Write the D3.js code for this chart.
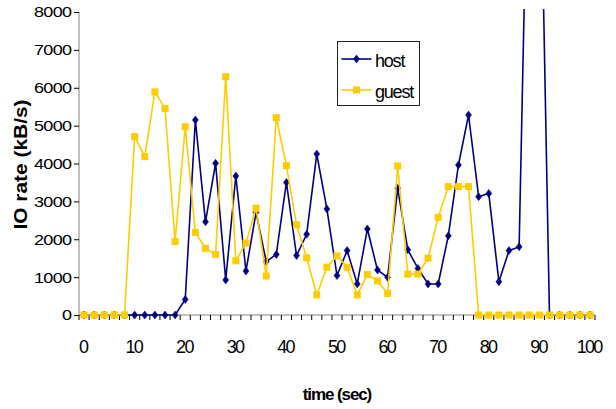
<!DOCTYPE html>
<html>
<head>
<meta charset="utf-8">
<script src="https://cdn.jsdelivr.net/npm/d3@7"></script>
<style>
  html, body { margin: 0; padding: 0; background: #fff; }
  svg text { font-family: "Liberation Sans", Arial, sans-serif; fill: #000; }
</style>
</head>
<body>
<svg id="chart" width="616" height="409"></svg>
<script>
// Sample times (seconds), one reading every 2 s
const times = d3.range(0, 101, 2);

// IO rate in kB/s measured on the host
const hostValues = [
  0, 0, 0, 0, 0, 0, 0, 0, 0, 0,
  410, 5150, 2460, 4005, 925, 3670, 1160, 2710, 1410, 1600,
  3500, 1570, 2130, 4250, 2800, 1040, 1700, 820, 2270, 1190,
  995, 3345, 1720, 1230, 820, 820, 2090, 3960, 5280, 3125,
  3210, 880, 1700, 1800, 14500, 14000,
  0, 0, 0, 0, 0
];

// IO rate in kB/s measured inside the guest
const guestValues = [
  0, 0, 0, 0, 0,
  4710, 4180, 5890, 5450, 1940, 4970, 2180, 1760, 1600, 6290,
  1430, 1900, 2820, 1030, 5210, 3940, 2380, 1510, 530, 1260,
  1560, 1260, 530, 1070, 900, 570, 3935, 1080, 1080, 1500,
  2580, 3390, 3390, 3390,
  0, 0, 0, 0, 0, 0, 0, 0, 0, 0, 0, 0
];

const yTicks = [0, 1000, 2000, 3000, 4000, 5000, 6000, 7000, 8000];
const xLabels = [0, 10, 20, 30, 40, 50, 60, 70, 80, 90, 100];

const series = [
  { name: "host",  values: hostValues,  color: "#000080", marker: "diamond" },
  { name: "guest", values: guestValues, color: "#FFCC00", marker: "square" }
];

const svg = d3.select("#chart");
const plotLeft = 79, plotRight = 595, plotTop = 12, plotBottom = 315;

const x = d3.scaleBand().domain(times).range([plotLeft, plotRight]).paddingInner(0).paddingOuter(0);
const cx = t => x(t) + x.bandwidth() / 2;
const y = d3.scaleLinear().domain([0, 8000]).range([plotBottom, plotTop]);

// plot area clip (lines running past the top are cut off)
svg.append("defs").append("clipPath").attr("id", "plotClip")
  .append("rect").attr("x", plotLeft).attr("y", plotTop - 3)
  .attr("width", plotRight - plotLeft + 1).attr("height", plotBottom - plotTop + 8);

// y axis: grey spine, short outward ticks, wide tick labels
const yAxis = svg.append("g").attr("transform", `translate(${plotLeft},0)`)
  .call(d3.axisLeft(y).tickValues(yTicks).tickSize(5).tickFormat(""));
yAxis.select(".domain").attr("stroke", "#808080").attr("d", `M0,${plotTop}V${plotBottom}`);
yAxis.selectAll(".tick line").attr("stroke", "#000");
svg.append("g").selectAll("text").data(yTicks).join("text")
  .attr("transform", d => `translate(71.5,${y(d) + 5.4}) scale(1.2,1)`)
  .attr("text-anchor", "end").attr("font-size", 15).attr("letter-spacing", "-0.5px")
  .text(d => d);

// x axis: ticks at category boundaries, labels every 10 s
const xg = svg.append("g");
xg.append("line").attr("x1", plotLeft).attr("x2", plotRight).attr("y1", plotBottom).attr("y2", plotBottom)
  .attr("stroke", "#808080");
const boundaries = times.map(t => x(t)).concat([plotRight]);
xg.selectAll("line.tk").data(boundaries).join("line").attr("class", "tk")
  .attr("x1", d => d).attr("x2", d => d).attr("y1", plotBottom).attr("y2", plotBottom + 5)
  .attr("stroke", "#000");
xg.selectAll("text").data(xLabels).join("text")
  .attr("x", d => cx(d) - 0.8).attr("y", plotBottom + 37.5)
  .attr("text-anchor", "middle").attr("font-size", 18).attr("letter-spacing", "-1.7px")
  .text(d => d);

// axis titles
svg.append("text").attr("x", (plotLeft + plotRight) / 2).attr("y", 399.5)
  .attr("text-anchor", "middle").attr("font-size", 17).attr("font-weight", "bold")
  .attr("letter-spacing", "-1.1px").text("time (sec)");
svg.append("text").attr("transform", `translate(26.5,${(plotTop + plotBottom) / 2 + 1}) rotate(-90) scale(1.13,1)`)
  .attr("text-anchor", "middle").attr("font-size", 18.5).attr("font-weight", "bold")
  .text("IO rate (kB/s)");

// marker shapes
function drawMarker(sel, kind, color) {
  if (kind === "diamond") {
    sel.append("path").attr("d", "M0,-4L3,0L0,4L-3,0Z").attr("fill", color).attr("stroke", color).attr("stroke-width", 0.5);
  } else {
    sel.append("rect").attr("x", -3.5).attr("y", -3.5).attr("width", 7).attr("height", 7).attr("fill", color);
  }
}

// series lines and markers
const plot = svg.append("g").attr("clip-path", "url(#plotClip)");
const line = d3.line().x((d, i) => cx(times[i])).y(d => y(d));
series.forEach(s => {
  const g = plot.append("g");
  g.append("path").datum(s.values).attr("d", line)
    .attr("fill", "none").attr("stroke", s.color).attr("stroke-width", 1.6);
  s.values.forEach((v, i) => {
    if (v > 8100) return;
    const m = g.append("g").attr("transform", `translate(${cx(times[i])},${y(v)})`);
    drawMarker(m, s.marker, s.color);
  });
});

// legend
const lg = svg.append("g").attr("transform", "translate(337.5,41.5)");
lg.append("rect").attr("width", 82).attr("height", 64).attr("fill", "#fff").attr("stroke", "#222").attr("stroke-width", 1);
series.forEach((s, i) => {
  const row = lg.append("g").attr("transform", `translate(0,${17.5 + i * 31})`);
  row.append("line").attr("x1", 4).attr("x2", 34).attr("stroke", s.color).attr("stroke-width", 1.6);
  drawMarker(row.append("g").attr("transform", "translate(19,0)"), s.marker, s.color);
  row.append("text").attr("x", 37.5).attr("y", 7.5).attr("font-size", 18).attr("letter-spacing", "-1.2px").text(s.name);
});
</script>
</body>
</html>
